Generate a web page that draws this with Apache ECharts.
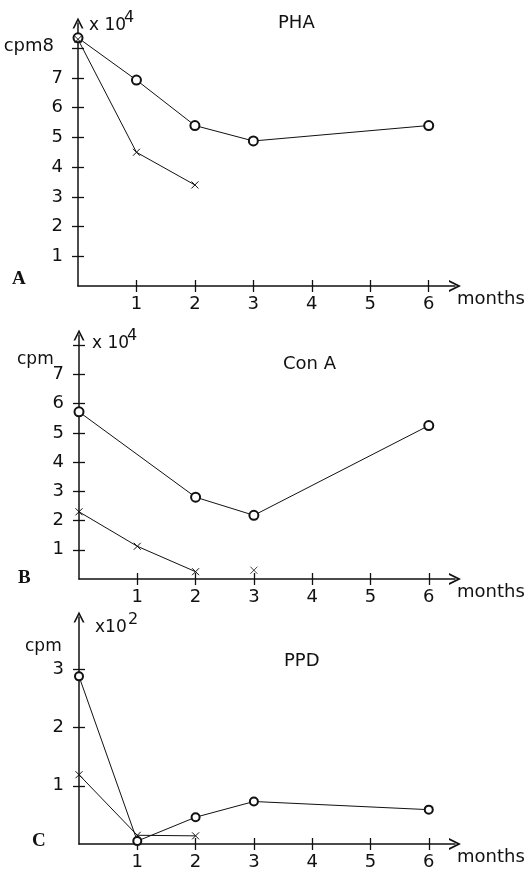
<!DOCTYPE html>
<html>
<head>
<meta charset="utf-8">
<script src="https://cdn.jsdelivr.net/npm/echarts@6/dist/echarts.min.js"></script>
<style>
  html, body { margin: 0; padding: 0; background: #fff; }
  #chart { width: 530px; height: 871px; }
</style>
</head>
<body>
<div id="chart"></div>
<script>
// months on the x axis
const monthTicks = [1, 2, 3, 4, 5, 6];

// panel A: PHA (x 10^4 cpm)
const aCircleMonths = [0, 1, 2, 3, 6];
const aCircleValues = [8.35, 6.93, 5.4, 4.88, 5.4];
const aCrossMonths = [0, 1, 2];
const aCrossValues = [8.3, 4.5, 3.4];
const aYTicks = [1, 2, 3, 4, 5, 6, 7, 8];

// panel B: Con A (x 10^4 cpm)
const bCircleMonths = [0, 2, 3, 6];
const bCircleValues = [5.72, 2.8, 2.18, 5.25];
const bCrossMonths = [0, 1, 2];
const bCrossValues = [2.3, 1.12, 0.25];
const bLoneCrossMonths = [3];
const bLoneCrossValues = [0.3];
const bYTicks = [1, 2, 3, 4, 5, 6, 7, 8];
const bYLabels = [1, 2, 3, 4, 5, 6, 7];

// panel C: PPD (x 10^2 cpm)
const cCircleMonths = [0, 1, 2, 3, 6];
const cCircleValues = [2.88, 0.05, 0.46, 0.73, 0.59];
const cCrossMonths = [0, 1, 2];
const cCrossValues = [1.19, 0.15, 0.14];
const cYTicks = [1, 2, 3];

const INK = '#111';
const FONT = 'DejaVu Sans';
const chevron = 'path://M0,10L5,0L10,10L8.4,10L5,3.2L1.6,10Z';
const crossSymbol = 'path://M0,0L10,10M10,0L0,10';

const pairs = (xs, ys) => xs.map((x, i) => [x, ys[i]]);

// each axis is drawn twice (ticks out, then ticks in) so the ticks cross the line
function xAxes(grid) {
    const base = {
        gridIndex: grid, type: 'value', min: 0, max: 6.45,
        position: 'bottom',
        splitLine: { show: false }
    };
    return [
        {
            ...base,
            name: 'months',
            nameLocation: 'end',
            nameGap: 2,
            nameTextStyle: {
                fontFamily: FONT, fontSize: 18, color: INK,
                align: 'left', verticalAlign: 'top', padding: [4, 0, 0, 0]
            },
            axisLine: {
                onZero: false,
                lineStyle: { color: INK, width: 1.5 },
                symbol: ['none', chevron],
                symbolSize: [12, 12]
            },
            axisTick: {
                customValues: monthTicks, length: 6,
                lineStyle: { color: INK, width: 1.3 }
            },
            axisLabel: {
                customValues: monthTicks, margin: 9,
                fontFamily: FONT, fontSize: 18, color: INK
            }
        },
        {
            ...base,
            axisLine: { show: false, onZero: false },
            axisTick: {
                customValues: monthTicks, inside: true, length: 6,
                lineStyle: { color: INK, width: 1.3 }
            },
            axisLabel: { show: false }
        }
    ];
}

function yAxes(grid, max, ticks, labels, formatter) {
    const base = {
        gridIndex: grid, type: 'value', min: 0, max: max,
        position: 'left',
        splitLine: { show: false }
    };
    return [
        {
            ...base,
            axisLine: {
                onZero: false,
                lineStyle: { color: INK, width: 1.5 },
                symbol: ['none', chevron],
                symbolSize: [11, 11]
            },
            axisTick: {
                customValues: ticks, length: 6,
                lineStyle: { color: INK, width: 1.3 }
            },
            axisLabel: {
                customValues: labels, margin: 15,
                fontFamily: FONT, fontSize: 18, color: INK,
                formatter: formatter,
                rich: { k: { fontFamily: FONT, fontSize: 18, color: INK, padding: [0, 9, 4, 0] } }
            }
        },
        {
            ...base,
            axisLine: { show: false, onZero: false },
            axisTick: {
                customValues: ticks, inside: true, length: 6,
                lineStyle: { color: INK, width: 1.3 }
            },
            axisLabel: { show: false }
        }
    ];
}

function circles(axis, data, size) {
    return {
        type: 'line', xAxisIndex: axis, yAxisIndex: axis, data: data,
        symbol: 'emptyCircle', symbolSize: size, clip: false,
        lineStyle: { color: INK, width: 1 },
        itemStyle: { color: INK, borderColor: INK, borderWidth: 0.9 }
    };
}

function crosses(axis, data, type) {
    return {
        type: type || 'line', xAxisIndex: axis, yAxisIndex: axis, data: data,
        symbol: crossSymbol, symbolSize: 7, clip: false,
        lineStyle: { color: INK, width: 1 },
        itemStyle: { color: INK, borderColor: INK, borderWidth: 1 }
    };
}

function label(text, left, top, opts) {
    return {
        text: text, left: left, top: top, padding: 0,
        textStyle: { fontFamily: FONT, fontSize: 18, fontWeight: 'normal', color: INK, ...(opts || {}) }
    };
}

const panelLetter = { fontFamily: 'Liberation Serif', fontSize: 19, fontWeight: 'bold' };

const chart = echarts.init(document.getElementById('chart'), null, { renderer: 'canvas' });

chart.setOption({
    animation: false,
    backgroundColor: '#fff',
    title: [
        label('PHA', 278, 14),
        label('Con A', 283, 355),
        label('PPD', 284, 652),
        label('x 10', 89, 17, { fontSize: 17 }),
        label('4', 124, 10, { fontSize: 16 }),
        label('x 10', 92, 335, { fontSize: 17 }),
        label('4', 127, 328, { fontSize: 16 }),
        label('x10', 95, 619, { fontSize: 17 }),
        label('2', 128, 612, { fontSize: 16 }),
        label('cpm', 17, 351, { fontSize: 17 }),
        label('cpm', 25, 638, { fontSize: 17 }),
        label('A', 12, 270, panelLetter),
        label('B', 18, 569, panelLetter),
        label('C', 32, 832, panelLetter)
    ],
    grid: [
        { left: 78, right: 75, top: 23, bottom: 585 },
        { left: 79, right: 75, top: 335, bottom: 292 },
        { left: 79, right: 75, top: 617, bottom: 23 }
    ],
    xAxis: [...xAxes(0), ...xAxes(1), ...xAxes(2)],
    yAxis: [
        ...yAxes(0, 8.85, aYTicks, aYTicks, v => (v === 8 ? '{k|cpm8}' : String(v))),
        ...yAxes(1, 8.35, bYTicks, bYLabels),
        ...yAxes(2, 3.9, cYTicks, cYTicks)
    ],
    series: [
        circles(0, pairs(aCircleMonths, aCircleValues), 9),
        crosses(0, pairs(aCrossMonths, aCrossValues)),
        circles(2, pairs(bCircleMonths, bCircleValues), 9),
        crosses(2, pairs(bCrossMonths, bCrossValues)),
        crosses(2, pairs(bLoneCrossMonths, bLoneCrossValues), 'scatter'),
        circles(4, pairs(cCircleMonths, cCircleValues), 8),
        crosses(4, pairs(cCrossMonths, cCrossValues))
    ]
});
</script>
</body>
</html>
